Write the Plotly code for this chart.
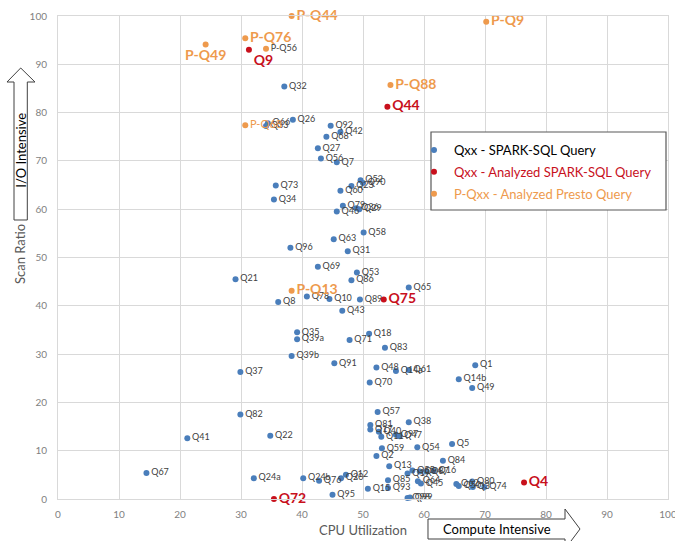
import plotly.graph_objects as go

# ---- data ----
spark_names = ["Q32","Q66","Q33","Q26","Q92","Q42","Q68","Q27","Q56","Q7",
               "Q73","Q34","Q52","Q90","Q60","Q23","Q79","Q36","Q29","Q46",
               "Q58","Q63","Q96","Q31","Q69","Q53","Q86","Q21","Q65","Q8",
               "Q78","Q10","Q89","Q43","Q35","Q39a","Q18","Q71","Q83","Q39b",
               "Q91","Q48","Q14a","Q61","Q70","Q37","Q1","Q14b","Q49","Q57",
               "Q38","Q81","Q17","Q40","Q11","Q97","Q47","Q82","Q41","Q22",
               "Q59","Q54","Q5","Q2","Q84","Q13","Q19","Q55","Q94","Q87",
               "Q16","Q67","Q24a","Q24b","Q76","Q20","Q12","Q85","Q64","Q45",
               "Q15","Q93","Q95","Q98","Q99","Q80","Q62","Q50","Q3","Q74"]
spark_cpu = [37.1,34.4,34.1,38.5,44.7,46.3,44.0,42.6,43.1,45.7,
             35.7,35.4,49.6,50.0,46.3,48.1,46.7,48.9,49.4,45.7,
             50.1,45.2,38.1,47.5,42.6,49.0,48.1,29.1,57.5,36.1,
             40.8,44.5,49.5,46.6,39.2,39.2,51.0,47.8,53.6,38.3,
             45.3,52.2,55.4,57.5,51.1,29.9,68.4,65.7,67.9,52.4,
             57.5,51.2,51.2,52.6,53.0,55.4,56.0,29.9,21.2,34.8,
             53.1,58.9,64.6,52.2,63.1,54.3,57.3,58.1,59.3,60.4,
             61.6,14.5,32.1,40.2,42.8,46.4,47.2,54.1,59.0,59.5,
             50.8,54.1,45.0,57.3,57.7,67.9,65.3,65.7,68.0,69.9]
spark_scan = [85.4,77.8,77.2,78.5,77.3,76.0,75.0,72.6,70.5,69.7,
              64.9,62.0,66.0,65.4,63.8,64.8,60.7,60.2,60.0,59.5,
              55.2,53.8,52.0,51.3,48.1,46.9,45.3,45.5,43.8,40.8,
              41.9,41.4,41.3,39.0,34.5,33.1,34.2,32.9,31.3,29.6,
              28.1,27.2,26.5,26.7,24.1,26.3,27.7,24.8,23.0,18.0,
              15.9,15.3,14.4,13.9,12.9,13.3,13.0,17.5,12.6,13.1,
              10.5,10.7,11.4,8.9,7.9,6.8,5.3,5.9,5.7,5.7,
              5.8,5.4,4.3,4.3,3.8,4.3,5.0,3.9,3.7,3.2,
              2.1,2.3,0.9,0.2,0.3,3.6,3.1,2.7,2.5,2.5]

analyzed_names = ["Q9", "Q44", "Q75", "Q4", "Q72"]
analyzed_cpu = [31.3, 54.0, 53.4, 76.4, 35.4]
analyzed_scan = [93.0, 81.2, 41.3, 3.4, 0.0]

presto_names = ["P-Q44", "P-Q9", "P-Q49", "P-Q76", "P-Q56", "P-Q88", "P-Q68", "P-Q13"]
presto_cpu = [38.3, 70.2, 24.2, 30.7, 34.1, 54.5, 30.7, 38.3]
presto_scan = [100.0, 98.8, 94.1, 95.4, 93.2, 85.7, 77.4, 43.1]

x_ticks = [0, 10, 20, 30, 40, 50, 60, 70, 80, 90, 100]
y_ticks = [0, 10, 20, 30, 40, 50, 60, 70, 80, 90, 100]

# ---- styles ----
FONT = "Lato, 'Open Sans', sans-serif"
BLUE = "#4A7EBB"
RED = "#C8101C"
ORANGE = "#EE9A4D"

# plot area in pixels
L, R, T, B = 58, 7, 16, 42
W, H = 675, 541
PW, PH = W - L - R, H - T - B


def px(xp):
    return (xp - L) / PW


def py(yp):
    return (H - B - yp) / PH


fig = go.Figure()

fig.add_trace(go.Scatter(
    x=spark_cpu, y=spark_scan, text=spark_names, mode="markers+text",
    textposition="middle right",
    textfont=dict(family=FONT, size=9, color="#404040"),
    marker=dict(color=BLUE, size=6),
    name="Qxx - SPARK-SQL Query", legendgroup="a", cliponaxis=False,
))

red_pos = ["bottom right", "middle right", "middle right", "middle right", "middle right"]
fig.add_trace(go.Scatter(
    x=analyzed_cpu, y=analyzed_scan,
    text=["<b>%s</b>" % n for n in analyzed_names], mode="markers+text",
    textposition=red_pos,
    textfont=dict(family=FONT, size=14, color=RED),
    marker=dict(color=RED, size=6),
    name="<span style='color:%s'>Qxx - Analyzed SPARK-SQL Query</span>" % RED,
    legendgroup="b", cliponaxis=False,
))

p_text = []
p_size = []
p_color = []
p_pos = []
for n in presto_names:
    if n == "P-Q56":
        p_text.append(n); p_size.append(9); p_color.append("#404040")
    elif n == "P-Q68":
        p_text.append(n); p_size.append(11); p_color.append(ORANGE)
    else:
        p_text.append("<b>%s</b>" % n); p_size.append(14); p_color.append(ORANGE)
    p_pos.append("bottom center" if n == "P-Q49" else "middle right")

fig.add_trace(go.Scatter(
    x=presto_cpu, y=presto_scan, text=p_text, mode="markers+text",
    textposition=p_pos,
    textfont=dict(family=FONT, size=p_size, color=p_color),
    marker=dict(color=ORANGE, size=6),
    name="<span style='color:%s'>P-Qxx - Analyzed Presto Query</span>" % ORANGE,
    legendgroup="c", cliponaxis=False,
))

axis_common = dict(
    range=[0, 100], showgrid=True, gridcolor="#D9D9D9", gridwidth=1,
    zeroline=False, showline=True, linecolor="#D9D9D9", mirror=True,
    ticks="", tickfont=dict(family=FONT, size=10, color="#7F7F7F"),
    ticklabeloverflow="allow",
)

fig.update_xaxes(tickvals=x_ticks, ticklabelstandoff=6, **axis_common)
fig.update_yaxes(tickvals=y_ticks, ticklabelstandoff=8, **axis_common)

# legend box
shapes = [
    dict(type="rect", xref="paper", yref="paper",
         x0=px(431), x1=px(666), y0=py(210), y1=py(132),
         line=dict(color="#595959", width=1.2), fillcolor="white", layer="above"),
]

# Compute Intensive arrow (bottom)
bx = [428, 565, 565, 580, 565, 565, 428]
by = [519, 519, 509, 529, 549, 539, 539]
path = "M " + " L ".join("%f,%f" % (px(a), py(b)) for a, b in zip(bx, by)) + " Z"
shapes.append(dict(type="path", xref="paper", yref="paper", path=path,
                   line=dict(color="#404040", width=1), fillcolor="white"))

# I/O Intensive arrow (left)
ax = [14, 14, 7, 20.7, 35, 27.3, 27.3]
ay = [220, 82, 82, 68, 82, 82, 220]
path2 = "M " + " L ".join("%f,%f" % (px(a), py(b)) for a, b in zip(ax, ay)) + " Z"
shapes.append(dict(type="path", xref="paper", yref="paper", path=path2,
                   line=dict(color="#404040", width=1), fillcolor="white"))

ann_common = dict(xref="paper", yref="paper", showarrow=False,
                  xanchor="center", yanchor="middle")
annotations = [
    dict(text="CPU Utilization", x=px(363), y=py(530),
         font=dict(family=FONT, size=13, color="#595959"), **ann_common),
    dict(text="Compute Intensive", x=px(497), y=py(529),
         font=dict(family=FONT, size=13, color="#000000"), **ann_common),
    dict(text="Scan Ratio", x=px(20), y=py(254), textangle=-90,
         font=dict(family=FONT, size=13, color="#595959"), **ann_common),
    dict(text="I/O Intensive", x=px(20.7), y=py(150), textangle=-90,
         font=dict(family=FONT, size=13, color="#000000"), **ann_common),
]

fig.update_layout(
    width=W, height=H,
    margin=dict(l=L, r=R, t=T, b=B, autoexpand=False),
    paper_bgcolor="white", plot_bgcolor="white",
    font=dict(family=FONT),
    showlegend=True,
    legend=dict(x=px(414), y=py(135), xanchor="left", yanchor="top",
                bgcolor="rgba(0,0,0,0)", borderwidth=0,
                font=dict(family=FONT, size=13, color="#000000"),
                tracegroupgap=2, itemwidth=30),
    shapes=shapes, annotations=annotations,
)

fig.write_html("out.html", config={"displayModeBar": False},
               post_script="document.body.style.margin='0';document.body.style.overflow='hidden';")
